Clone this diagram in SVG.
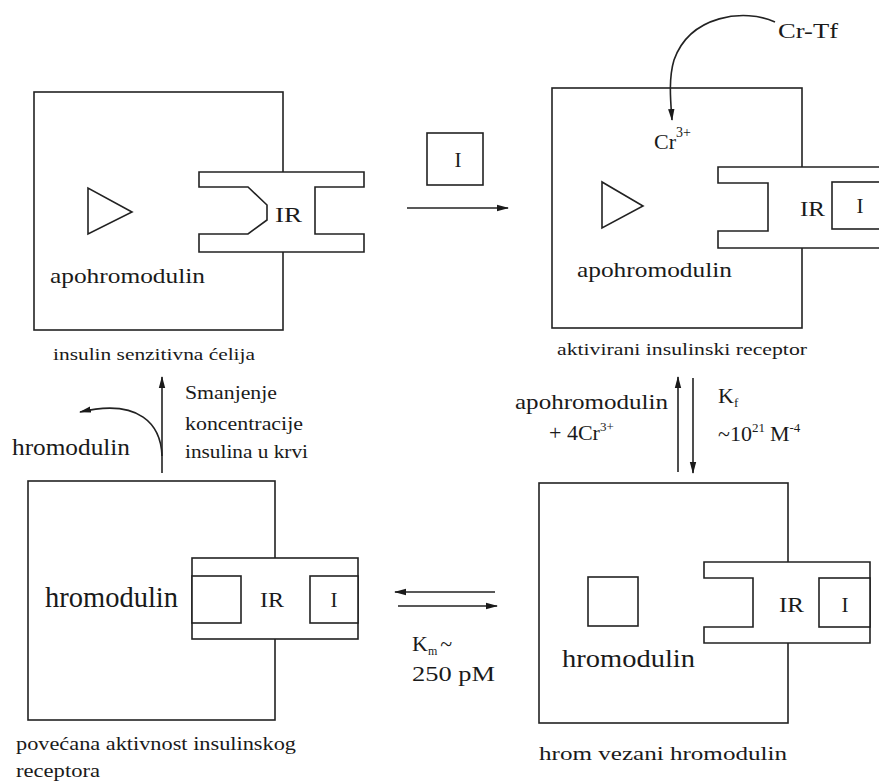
<svg xmlns="http://www.w3.org/2000/svg" width="879" height="782" viewBox="0 0 879 782">
<style>
.bx{fill:#fff;stroke:#222;stroke-width:1.6}
.ln{fill:none;stroke:#222;stroke-width:1.6}
text{fill:#1a1a1a}
</style>
<defs>
<marker id="ah" markerWidth="12" markerHeight="8" refX="11" refY="4" orient="auto" markerUnits="userSpaceOnUse">
<path d="M0,0.8 L12,4 L0,7.2 Z" fill="#1a1a1a"/>
</marker>
</defs>
<rect width="879" height="782" fill="#fff"/>
<g font-family="Liberation Serif, Times New Roman, DejaVu Serif, serif">
<g id="cell1">
<rect class="bx" x="34" y="92" width="249" height="238"/>
<path class="bx" d="M199,172 H364 V187 H315 V234 H364 V252 H199 V234 H248 L267,220 V205 L248,187 H199 Z"/>
<path class="ln" d="M88,188 V234 L132,212 Z"/>
<text x="275" y="222" font-size="20" textLength="27" lengthAdjust="spacingAndGlyphs">IR</text>
<text x="50" y="283" font-size="22" textLength="155" lengthAdjust="spacingAndGlyphs">apohromodulin</text>
<text x="53" y="360" font-size="17" textLength="202" lengthAdjust="spacingAndGlyphs">insulin senzitivna ćelija</text>
</g>

<g id="insulin">
<rect class="bx" x="427" y="133" width="56" height="52"/>
<text x="458" y="167" font-size="21" text-anchor="middle">I</text>
</g>

<g id="cell2">
<rect class="bx" x="552" y="88" width="250" height="240"/>
<path class="bx" d="M718,167 H890 V248 H718 V231 H768 V183 H718 Z"/>
<rect class="bx" x="832" y="182" width="60" height="47"/>
<text x="860" y="213" font-size="21" text-anchor="middle">I</text>
<text x="800" y="216" font-size="21" textLength="25" lengthAdjust="spacingAndGlyphs">IR</text>
<path class="ln" d="M602,182 V228 L643,206 Z"/>
<text x="654" y="149" font-size="22">Cr<tspan font-size="14" dy="-12">3+</tspan></text>
<text x="577" y="277" font-size="22" textLength="155" lengthAdjust="spacingAndGlyphs">apohromodulin</text>
<text x="557" y="355" font-size="17" textLength="250" lengthAdjust="spacingAndGlyphs">aktivirani insulinski receptor</text>
</g>

<g id="crtf">
<text x="778" y="38" font-size="22" textLength="60" lengthAdjust="spacingAndGlyphs">Cr-Tf</text>
</g>

<g id="cell3">
<rect class="bx" x="28" y="481" width="247" height="239"/>
<rect class="bx" x="192" y="558" width="166" height="81"/>
<rect class="bx" x="192" y="576" width="49" height="47"/>
<rect class="bx" x="310" y="576" width="48" height="47"/>
<text x="260" y="607" font-size="21" textLength="24" lengthAdjust="spacingAndGlyphs">IR</text>
<text x="334" y="607" font-size="21" text-anchor="middle">I</text>
<text x="45" y="607" font-size="30" textLength="133" lengthAdjust="spacingAndGlyphs">hromodulin</text>
<text x="16" y="750" font-size="19" textLength="280" lengthAdjust="spacingAndGlyphs">povećana aktivnost insulinskog</text>
<text x="16" y="777" font-size="19" textLength="84" lengthAdjust="spacingAndGlyphs">receptora</text>
</g>

<g id="cell4">
<rect class="bx" x="539" y="483" width="249" height="240"/>
<path class="bx" d="M704,562 H870 V643 H704 V627 H753 V578 H704 Z"/>
<rect class="bx" x="819" y="578" width="51" height="49"/>
<text x="845" y="612" font-size="21" text-anchor="middle">I</text>
<text x="779" y="612" font-size="21" textLength="25" lengthAdjust="spacingAndGlyphs">IR</text>
<rect class="bx" x="588" y="577" width="50" height="49"/>
<text x="562" y="667" font-size="25" textLength="133" lengthAdjust="spacingAndGlyphs">hromodulin</text>
<text x="539" y="760" font-size="19" textLength="248" lengthAdjust="spacingAndGlyphs">hrom vezani hromodulin</text>
</g>

<g id="labels">
<text x="12" y="455" font-size="23" textLength="118" lengthAdjust="spacingAndGlyphs">hromodulin</text>
<text x="185" y="399" font-size="18" textLength="92" lengthAdjust="spacingAndGlyphs">Smanjenje</text>
<text x="185" y="430" font-size="18" textLength="118" lengthAdjust="spacingAndGlyphs">koncentracije</text>
<text x="185" y="458" font-size="18" textLength="123" lengthAdjust="spacingAndGlyphs">insulina u krvi</text>
<text x="515" y="409" font-size="21" textLength="153" lengthAdjust="spacingAndGlyphs">apohromodulin</text>
<text x="549" y="440" font-size="22">+ 4Cr<tspan font-size="13" dy="-9">3+</tspan></text>
<text x="718" y="403" font-size="22">K<tspan font-size="13" dy="4">f</tspan></text>
<text x="718" y="441" font-size="22">~10<tspan font-size="13" dy="-9">21</tspan><tspan dy="9" dx="5">M</tspan><tspan font-size="13" dy="-9">-4</tspan></text>
<text x="412" y="651" font-size="22">K<tspan font-size="12" dy="4">m</tspan><tspan dy="-4" dx="3">~</tspan></text>
<text x="412" y="681" font-size="22" textLength="83" lengthAdjust="spacingAndGlyphs">250 pM</text>
</g>
</g>
<g id="connectors">
<line class="ln" x1="407" y1="208" x2="508" y2="208" marker-end="url(#ah)"/>
<path class="ln" d="M775,22 C745,8 690,15 674,60 C668,80 671,105 672,120" marker-end="url(#ah)"/>
<line class="ln" x1="162" y1="473" x2="162" y2="377" stroke-width="2.2" marker-end="url(#ah)"/>
<path class="ln" d="M162,456 C161,425 140,398 80,412" marker-end="url(#ah)"/>
<line class="ln" x1="678" y1="472" x2="678" y2="377" marker-end="url(#ah)"/>
<line class="ln" x1="693" y1="378" x2="693" y2="473" marker-end="url(#ah)"/>
<line class="ln" x1="495" y1="592" x2="395" y2="592" marker-end="url(#ah)"/>
<line class="ln" x1="398" y1="606" x2="497" y2="606" marker-end="url(#ah)"/>
</g>
</svg>
